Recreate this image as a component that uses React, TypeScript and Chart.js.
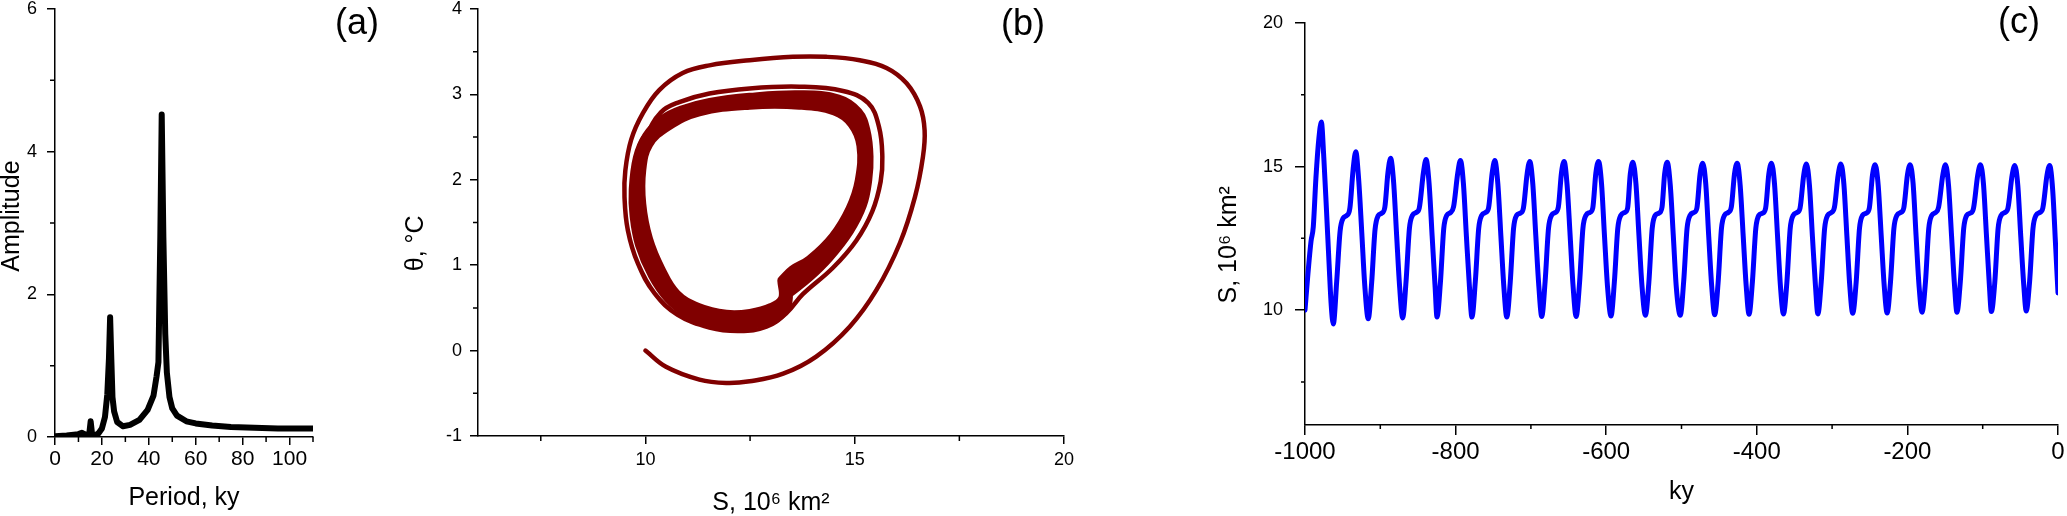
import React, { useEffect, useRef } from "react";
import { Chart, registerables } from "chart.js";

Chart.register(...registerables);

const FONT = "'Liberation Sans', Arial, Helvetica, sans-serif";
const W = 2067;
const H = 516;

// ---------- Panel (a): amplitude spectrum ----------
const aPeriod = [0, 5, 10, 11.5, 13, 14.6, 15.2, 15.8, 17, 18.5, 20, 21.3, 22.3, 23, 23.5, 24, 24.5, 25.2, 26.5, 29, 32, 36, 39.5, 42, 43.3, 44.1, 44.9, 45.5, 46.2, 47, 47.7, 48.8, 50, 52, 56, 60, 67, 75, 85, 95, 110];
const aAmplitude = [0.01, 0.02, 0.04, 0.06, 0.03, 0.04, 0.22, 0.04, 0.02, 0.05, 0.12, 0.28, 0.6, 1.1, 1.68, 1.1, 0.56, 0.36, 0.21, 0.15, 0.17, 0.24, 0.38, 0.58, 0.85, 1.05, 2.8, 4.52, 2.8, 1.45, 0.9, 0.56, 0.4, 0.3, 0.22, 0.19, 0.16, 0.14, 0.13, 0.12, 0.12];
const aXMajor = [0, 20, 40, 60, 80, 100];
const aXMinor = [10, 30, 50, 70, 90, 110];
const aYMajor = [0, 2, 4, 6];
const aYMinor = [1, 3, 5];

// ---------- Panel (b): phase portrait S–θ ----------
const bTransientS = [10.0, 10.49, 11.29, 11.93, 12.49, 13.29, 14.08, 14.88, 15.52, 16.08, 16.44, 16.63, 16.67, 16.56, 16.24, 15.76, 15.12, 14.32, 13.52, 12.49, 11.53, 10.89, 10.33, 9.94, 9.66, 9.52, 9.5, 9.58, 9.82, 10.22, 10.77, 11.53, 12.25, 12.89, 13.37, 13.76, 14.48, 15.04, 15.42, 15.62, 15.66, 15.58, 15.32, 14.72, 13.68, 12.49, 11.53, 10.81, 10.37, 10.02, 9.78, 9.68];
const bTransientT = [0.0, -0.19, -0.34, -0.38, -0.36, -0.27, -0.07, 0.28, 0.71, 1.26, 1.8, 2.27, 2.58, 2.86, 3.13, 3.31, 3.4, 3.44, 3.44, 3.4, 3.34, 3.25, 3.05, 2.78, 2.47, 2.11, 1.8, 1.41, 1.02, 0.67, 0.42, 0.27, 0.23, 0.28, 0.44, 0.66, 0.97, 1.29, 1.63, 1.98, 2.27, 2.62, 2.9, 3.04, 3.09, 3.07, 3.01, 2.91, 2.79, 2.5, 2.1, 1.7];
const bInnerS = [13.27, 13.52, 13.93, 14.49, 14.9, 15.12, 15.16, 14.94, 14.52, 13.68, 12.49, 11.28, 10.53, 10.07, 9.9, 9.9, 10.06, 10.36, 10.73, 11.26, 11.93, 12.5, 13.01, 13.29, 13.27];
const bInnerT = [0.82, 0.94, 1.06, 1.33, 1.66, 1.99, 2.4, 2.66, 2.81, 2.88, 2.88, 2.8, 2.63, 2.42, 2.11, 1.72, 1.31, 0.95, 0.66, 0.5, 0.42, 0.43, 0.5, 0.61, 0.82];
const bMiddleS = [13.34, 13.92, 14.44, 14.88, 15.22, 15.25, 15.1, 14.56, 13.68, 12.49, 11.37, 10.49, 10.0, 9.84, 9.8, 9.97, 10.26, 10.65, 11.21, 12.01, 12.61, 13.07, 13.33, 13.34];
const bMiddleT = [0.75, 0.96, 1.22, 1.53, 1.99, 2.33, 2.68, 2.88, 2.93, 2.92, 2.84, 2.68, 2.47, 2.15, 1.72, 1.28, 0.91, 0.64, 0.43, 0.35, 0.38, 0.44, 0.57, 0.75];
const bOuterS = [13.41, 13.92, 14.39, 14.86, 15.17, 15.3, 15.33, 15.26, 15.07, 14.61, 13.68, 12.49, 11.54, 10.85, 10.41, 10.04, 9.82, 9.72, 9.74, 9.87, 10.18, 10.56, 11.01, 11.55, 12.09, 12.72, 13.14, 13.37, 13.41];
const bOuterT = [0.67, 0.87, 1.1, 1.4, 1.7, 2.0, 2.27, 2.57, 2.79, 2.94, 2.99, 2.96, 2.9, 2.81, 2.7, 2.51, 2.26, 1.88, 1.58, 1.24, 0.88, 0.61, 0.43, 0.31, 0.28, 0.33, 0.39, 0.53, 0.67];
const bXMajor = [10, 15, 20];
const bXMinor = [7.5, 12.5, 17.5];
const bYMajor = [-1, 0, 1, 2, 3, 4];
const bYMinor = [-0.5, 0.5, 1.5, 2.5, 3.5];

// ---------- Panel (c): S time series ----------
const cTime = [
  -1000, -996, -992, -989, -985.5, -981.5, -978.3, -975, -971.5, -968, -965,
  -962.4, -957.9, -953.4, -949.4, -944.4, -940.4, -936.1, -932.6, -928.6, -924.6, -920.6,
  -916.0, -911.5, -907.0, -903.0, -898.0, -894.0, -889.8, -886.3, -882.3, -878.3, -874.3,
  -870.3, -865.8, -861.3, -857.3, -852.3, -848.3, -842.7, -839.2, -835.2, -831.2, -827.2,
  -824.7, -820.2, -815.7, -811.7, -806.7, -802.7, -797.1, -793.6, -789.6, -785.6, -781.6,
  -778.3, -773.8, -769.3, -765.3, -760.3, -756.3, -751.4, -747.9, -743.9, -739.9, -735.9,
  -732.0, -727.5, -723.0, -719.0, -714.0, -710.0, -705.0, -701.5, -697.5, -693.5, -689.5,
  -685.6, -681.1, -676.6, -672.6, -667.6, -663.6, -659.4, -655.9, -651.9, -647.9, -643.9,
  -639.9, -635.4, -630.9, -626.9, -621.9, -617.9, -613.7, -610.2, -606.2, -602.2, -598.2,
  -593.6, -589.1, -584.6, -580.6, -575.6, -571.6, -568.0, -564.5, -560.5, -556.5, -552.5,
  -547.9, -543.4, -538.9, -534.9, -529.9, -525.9, -522.4, -518.9, -514.9, -510.9, -506.9,
  -501.6, -497.1, -492.6, -488.6, -483.6, -479.6, -475.3, -471.8, -467.8, -463.8, -459.8,
  -455.9, -451.4, -446.9, -442.9, -437.9, -433.9, -429.6, -426.1, -422.1, -418.1, -414.1,
  -410.3, -405.8, -401.3, -397.3, -392.3, -388.3, -384.0, -380.5, -376.5, -372.5, -368.5,
  -364.6, -360.1, -355.6, -351.6, -346.6, -342.6, -337.6, -334.1, -330.1, -326.1, -322.1,
  -318.9, -314.4, -309.9, -305.9, -300.9, -296.9, -291.9, -288.4, -284.4, -280.4, -276.4,
  -272.6, -268.1, -263.6, -259.6, -254.6, -250.6, -246.3, -242.8, -238.8, -234.8, -230.8,
  -226.9, -222.4, -217.9, -213.9, -208.9, -204.9, -199.9, -196.4, -192.4, -188.4, -184.4,
  -180.6, -176.1, -171.6, -167.6, -162.6, -158.6, -152.9, -149.4, -145.4, -141.4, -137.4,
  -134.2, -129.7, -125.2, -121.2, -116.2, -112.2, -106.5, -103.0, -99.0, -95.0, -91.0,
  -88.5, -84.0, -79.5, -75.5, -70.5, -66.5, -60.9, -57.4, -53.4, -49.4, -45.4,
  -42.2, -37.7, -33.2, -29.2, -24.2, -20.2, -14.6, -11.1, -7.1, -3.1, 0,
];
const cArea = [
  10.0, 11.3, 12.4, 12.9, 14.6, 16.0, 16.55, 15.3, 13.5, 11.6, 10.1,
  9.52, 11.0, 12.75, 13.2, 13.3, 13.55, 14.9, 15.52, 14.5, 12.7, 10.85,
  9.70, 10.95, 12.8, 13.28, 13.38, 13.58, 14.8, 15.29, 14.45, 12.6, 10.8,
  9.73, 11.0, 12.85, 13.3, 13.4, 13.55, 14.8, 15.25, 14.4, 12.6, 10.8,
  9.76, 10.95, 12.85, 13.3, 13.4, 13.6, 14.78, 15.21, 14.4, 12.55, 10.8,
  9.76, 11.0, 12.85, 13.3, 13.4, 13.55, 14.78, 15.21, 14.4, 12.6, 10.8,
  9.76, 10.95, 12.85, 13.3, 13.38, 13.55, 14.75, 15.18, 14.4, 12.6, 10.85,
  9.78, 11.0, 12.85, 13.3, 13.4, 13.58, 14.78, 15.18, 14.35, 12.6, 10.8,
  9.78, 10.95, 12.85, 13.3, 13.4, 13.55, 14.78, 15.18, 14.4, 12.55, 10.8,
  9.80, 11.0, 12.85, 13.3, 13.4, 13.55, 14.75, 15.15, 14.4, 12.6, 10.85,
  9.82, 10.95, 12.85, 13.3, 13.38, 13.58, 14.75, 15.15, 14.35, 12.6, 10.8,
  9.82, 11.0, 12.85, 13.3, 13.4, 13.55, 14.75, 15.12, 14.4, 12.55, 10.8,
  9.84, 10.95, 12.85, 13.3, 13.4, 13.58, 14.75, 15.12, 14.35, 12.6, 10.85,
  9.86, 11.0, 12.85, 13.3, 13.38, 13.55, 14.75, 15.12, 14.4, 12.6, 10.8,
  9.87, 10.95, 12.85, 13.3, 13.4, 13.55, 14.72, 15.09, 14.35, 12.55, 10.85,
  9.87, 11.0, 12.85, 13.3, 13.4, 13.58, 14.72, 15.09, 14.4, 12.6, 10.8,
  9.89, 10.95, 12.85, 13.3, 13.38, 13.55, 14.72, 15.06, 14.35, 12.6, 10.85,
  9.90, 11.0, 12.85, 13.3, 13.4, 13.55, 14.72, 15.06, 14.4, 12.55, 10.8,
  9.93, 10.95, 12.85, 13.3, 13.4, 13.58, 14.72, 15.06, 14.35, 12.6, 10.85,
  9.93, 11.0, 12.85, 13.3, 13.38, 13.55, 14.72, 15.06, 14.4, 12.6, 10.8,
  9.95, 10.95, 12.85, 13.3, 13.4, 13.55, 14.7, 15.04, 14.35, 12.55, 10.85,
  9.97, 11.0, 12.85, 13.3, 13.4, 13.55, 14.7, 15.04, 14.2, 12.2, 10.6,
];
const cXMajor = [-1000, -800, -600, -400, -200, 0];
const cXMinor = [-900, -700, -500, -300, -100];
const cYMajor = [10, 15, 20];
const cYMinor = [7.5, 12.5, 17.5];

// ---------- helpers ----------
const pts = (xs: number[], ys: number[]) => xs.map((x, i) => ({ x, y: ys[i] }));

function minorTicks(xVals: number[], yVals: number[], len: number) {
  return {
    id: "minorTicks",
    afterDraw(chart: any) {
      const { ctx, chartArea, scales } = chart;
      ctx.save();
      ctx.strokeStyle = "#000";
      ctx.lineWidth = 1.5;
      ctx.beginPath();
      for (const v of xVals) {
        const px = scales.x.getPixelForValue(v);
        ctx.moveTo(px, chartArea.bottom);
        ctx.lineTo(px, chartArea.bottom + len);
      }
      for (const v of yVals) {
        const py = scales.y.getPixelForValue(v);
        ctx.moveTo(chartArea.left, py);
        ctx.lineTo(chartArea.left - len, py);
      }
      ctx.stroke();
      ctx.restore();
    },
  };
}

interface ScaleOpts {
  min: number; max: number; major: number[]; size: number; tickLen: number; tickPad: number;
  tickSize: number; title: string; titleSize: number; titlePad: any;
}

function makeScale(o: ScaleOpts) {
  return {
    type: "linear",
    min: o.min,
    max: o.max,
    afterBuildTicks: (s: any) => { s.ticks = o.major.map((v) => ({ value: v })); },
    afterFit: (s: any) => {
      if (s.isHorizontal()) s.height = o.size; else s.width = o.size;
      s.paddingLeft = 0; s.paddingRight = 0; s.paddingTop = 0; s.paddingBottom = 0;
    },
    grid: { display: true, drawOnChartArea: false, drawTicks: true, tickLength: o.tickLen, tickColor: "#000", tickWidth: 1.5, color: "#000", lineWidth: 1.5 },
    border: { display: true, color: "#000", width: 1.5 },
    ticks: {
      autoSkip: false, maxRotation: 0, minRotation: 0, padding: o.tickPad, color: "#000",
      font: { family: FONT, size: o.tickSize, lineHeight: 1 },
      callback: (v: number) => String(v),
    },
    title: { display: true, text: o.title, color: "#000", font: { family: FONT, size: o.titleSize, lineHeight: 1 }, padding: o.titlePad },
  };
}

const baseOptions = (padding: any) => ({
  responsive: false,
  animation: false,
  events: [],
  devicePixelRatio: 1,
  layout: { padding },
  plugins: { legend: { display: false }, tooltip: { enabled: false } },
});

const line = (data: any[], color: string, width: number, extra: any = {}) => ({
  data, showLine: true, borderColor: color, borderWidth: width, pointRadius: 0,
  borderJoinStyle: "round", borderCapStyle: "round", fill: false, ...extra,
});

function configA(): any {
  return {
    type: "scatter",
    data: { datasets: [line(pts(aPeriod, aAmplitude), "#000", 6, { tension: 0 })] },
    options: {
      ...baseOptions({ left: 0, right: W - 313, top: 9, bottom: 0 }),
      scales: {
        x: makeScale({ min: 0, max: 110, major: aXMajor, size: 79, tickLen: 8, tickPad: 4, tickSize: 21, title: "Period, ky", titleSize: 25, titlePad: { top: 0, bottom: 5 } }),
        y: makeScale({ min: 0, max: 6, major: aYMajor, size: 55, tickLen: 8, tickPad: 10, tickSize: 18, title: "  Amplitude", titleSize: 25, titlePad: { top: 0, bottom: 0 } }),
      },
    },
    plugins: [minorTicks(aXMinor, aYMinor, 5)],
  };
}

function configB(): any {
  const red = "#800000";
  return {
    type: "scatter",
    data: {
      datasets: [
        line(pts(bInnerS, bInnerT), red, 10, { tension: 0.4 }),
        line(pts(bMiddleS, bMiddleT), red, 10, { tension: 0.4 }),
        line(pts(bOuterS, bOuterT), red, 10, { tension: 0.4 }),
        line(pts(bTransientS, bTransientT), red, 4.5, { tension: 0.4 }),
      ],
    },
    options: {
      ...baseOptions({ left: 400, right: W - 1064, top: 9, bottom: 0 }),
      scales: {
        x: makeScale({ min: 6, max: 20, major: bXMajor, size: 80, tickLen: 8, tickPad: 7, tickSize: 18, title: "S, 10\u2076 km\u00B2", titleSize: 25, titlePad: { top: 0, bottom: 0 } }),
        y: makeScale({ min: -1, max: 4, major: bYMajor, size: 78, tickLen: 8, tickPad: 8, tickSize: 18, title: "\u03B8, \u00B0C      ", titleSize: 25, titlePad: { top: 4, bottom: 0 } }),
      },
    },
    plugins: [minorTicks(bXMinor, bYMinor, 5)],
  };
}

function configC(): any {
  return {
    type: "scatter",
    data: { datasets: [line(pts(cTime, cArea), "#0000FF", 5, { cubicInterpolationMode: "monotone" })] },
    options: {
      ...baseOptions({ left: 1195, right: W - 2058, top: 23, bottom: 0 }),
      scales: {
        x: makeScale({ min: -1000, max: 0, major: cXMajor, size: 91, tickLen: 10, tickPad: 5, tickSize: 24, title: "ky", titleSize: 25, titlePad: { top: 0, bottom: 11 } }),
        y: makeScale({ min: 6, max: 20, major: cYMajor, size: 110, tickLen: 10, tickPad: 12, tickSize: 18, title: "S, 10\u2076 km\u00B2      ", titleSize: 25, titlePad: { top: 22, bottom: 0 } }),
      },
    },
    plugins: [minorTicks(cXMinor, cYMinor, 4)],
  };
}

const panelLabel = (cx: number, top: number): React.CSSProperties => ({
  position: "absolute",
  left: cx,
  top,
  transform: "translateX(-50%)",
  fontFamily: FONT,
  fontSize: 36,
  lineHeight: 1,
  color: "#000",
  whiteSpace: "nowrap",
});

export default function App() {
  const refA = useRef<HTMLCanvasElement>(null);
  const refB = useRef<HTMLCanvasElement>(null);
  const refC = useRef<HTMLCanvasElement>(null);

  useEffect(() => {
    const charts = [
      new Chart(refA.current as HTMLCanvasElement, configA()),
      new Chart(refB.current as HTMLCanvasElement, configB()),
      new Chart(refC.current as HTMLCanvasElement, configC()),
    ];
    return () => charts.forEach((c) => c.destroy());
  }, []);

  const cs: React.CSSProperties = { position: "absolute", left: 0, top: 0, width: W, height: H };
  return (
    <div style={{ position: "absolute", left: 0, top: 0, width: W, height: H, background: "#fff", overflow: "hidden" }}>
      <canvas ref={refA} width={W} height={H} style={cs} />
      <canvas ref={refB} width={W} height={H} style={cs} />
      <canvas ref={refC} width={W} height={H} style={cs} />
      <div style={panelLabel(357, 4)}>(a)</div>
      <div style={panelLabel(1023, 5)}>(b)</div>
      <div style={panelLabel(2019, 3)}>(c)</div>
    </div>
  );
}
